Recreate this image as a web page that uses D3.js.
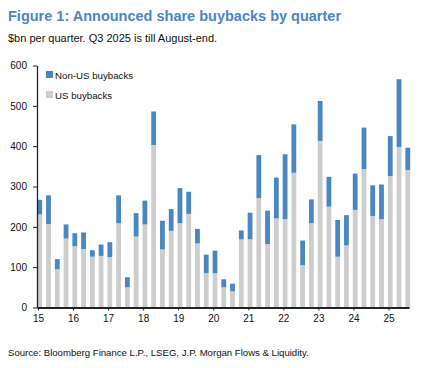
<!DOCTYPE html>
<html><head><meta charset="utf-8">
<script src="https://cdn.jsdelivr.net/npm/d3@7/dist/d3.min.js"></script>
<style>body{margin:0;background:#fff;} svg{display:block;font-family:"Liberation Sans",Arial,sans-serif;}</style>
</head><body>
<script>
const quarters = ["2015Q1","2015Q2","2015Q3","2015Q4","2016Q1","2016Q2","2016Q3","2016Q4","2017Q1","2017Q2","2017Q3","2017Q4","2018Q1","2018Q2","2018Q3","2018Q4","2019Q1","2019Q2","2019Q3","2019Q4","2020Q1","2020Q2","2020Q3","2020Q4","2021Q1","2021Q2","2021Q3","2021Q4","2022Q1","2022Q2","2022Q3","2022Q4","2023Q1","2023Q2","2023Q3","2023Q4","2024Q1","2024Q2","2024Q3","2024Q4","2025Q1","2025Q2","2025Q3"];
const usBuybacks = [231,207,95,171,152,145,126,128,125,209,50,176,206,403,144,190,209,232,159,85,85,50,40,169,169,271,157,221,219,334,105,209,413,250,126,154,242,343,227,219,326,398,341];
const totalBuybacks = [267,278,120,206,184,186,142,156,162,278,75,234,265,486,215,244,296,287,195,131,141,70,59,191,235,378,240,322,380,454,166,268,512,324,217,229,332,446,303,305,425,566,396];
const nonUsBuybacks = totalBuybacks.map((t,i)=>t-usBuybacks[i]);
const yTicks = [0,100,200,300,400,500,600];
const xYears = [2015,2016,2017,2018,2019,2020,2021,2022,2023,2024,2025];
const seriesNames = ["Non-US buybacks","US buybacks"];
const colors = {us:"#cdcdcd", nonus:"#4a87c2"};

const W=429,H=368;
const svg=d3.select("body").append("svg").attr("width",W).attr("height",H);

svg.append("text").attr("x",8).attr("y",21).attr("fill","#4a86c5").attr("font-weight","bold").attr("font-size",14.5)
  .text("Figure 1: Announced share buybacks by quarter");
svg.append("text").attr("x",8).attr("y",42).attr("fill","#111").attr("font-size",11)
  .text("$bn per quarter. Q3 2025 is till August-end.");
svg.append("text").attr("x",8).attr("y",356).attr("fill","#111").attr("font-size",9.6)
  .text("Source: Bloomberg Finance L.P., LSEG, J.P. Morgan Flows & Liquidity.");

const x=d3.scaleLinear().domain([2014.9715,2025.585]).range([37,409]);
const y=d3.scaleLinear().domain([0,600]).range([307.5,65.5]);
const qPos = q => { const yr=+q.slice(0,4), n=+q.slice(5); return yr+(n-1)*0.25+0.05; };
const bw=4.8;

const data = quarters.map((q,i)=>({q,us:usBuybacks[i],nonus:nonUsBuybacks[i]}));
const stack=d3.stack().keys(["us","nonus"])(data);
const g=svg.append("g");
stack.forEach(s=>{
  g.selectAll(null).data(s).enter().append("rect")
   .attr("x",d=>x(qPos(d.data.q))-bw/2).attr("width",bw)
   .attr("y",d=>y(d[1])).attr("height",d=>y(d[0])-y(d[1]))
   .attr("fill",colors[s.key]);
});

const ya=svg.append("g").attr("transform","translate(37,0)")
  .call(d3.axisLeft(y).tickValues(yTicks).tickSize(4).tickSizeOuter(0).tickPadding(6));
ya.select(".domain").attr("stroke","#222").attr("stroke-width",1.3);
ya.selectAll(".tick line").attr("stroke","#222");
ya.selectAll("text").attr("font-size",10).attr("fill","#111").attr("font-family","Liberation Sans, Arial, sans-serif");

const xa=svg.append("g").attr("transform","translate(0,307.5)")
  .call(d3.axisBottom(x).tickValues(xYears).tickSize(3).tickSizeOuter(0).tickPadding(4).tickFormat(d=>String(d).slice(2)));
xa.select(".domain").attr("stroke","#222").attr("stroke-width",2);
xa.selectAll(".tick line").attr("stroke","#222");
xa.selectAll("text").attr("font-size",10).attr("fill","#111").attr("font-family","Liberation Sans, Arial, sans-serif");

const lg=svg.append("g");
const lgColors=[colors.nonus,colors.us];
seriesNames.forEach((n,i)=>{
  lg.append("rect").attr("x",46).attr("y",71+i*20).attr("width",7).attr("height",7).attr("fill",lgColors[i]);
  lg.append("text").attr("x",55).attr("y",78.5+i*20).attr("font-size",9.7).attr("fill","#111").text(n);
});
</script>
</body></html>
